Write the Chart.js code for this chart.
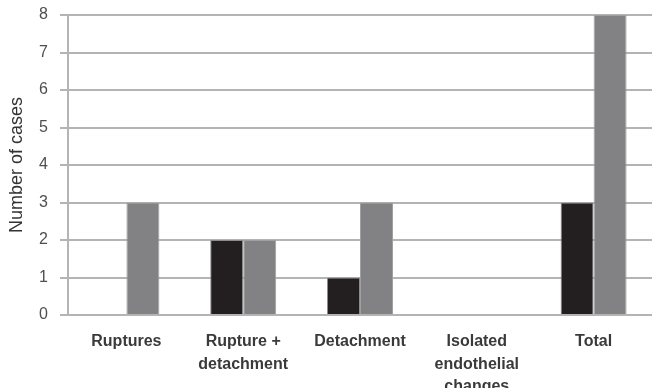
<!DOCTYPE html>
<html>
<head>
<meta charset="utf-8">
<script src="https://cdn.jsdelivr.net/npm/chart.js@4/dist/chart.umd.min.js"></script>
<style>
  html, body { margin: 0; padding: 0; background: #fff; }
  #wrap { width: 654px; height: 388px; position: relative; }
</style>
</head>
<body>
<div id="wrap"><canvas id="c" width="654" height="388"></canvas></div>
<script>
const categories = [
  ["Ruptures"],
  ["Rupture +", "detachment"],
  ["Detachment"],
  ["Isolated", "endothelial", "changes"],
  ["Total"]
];
const darkSeries = [0, 2, 1, 0, 3];
const greySeries = [3, 2, 3, 0, 8];
const yTicks = [0, 1, 2, 3, 4, 5, 6, 7, 8];

new Chart(document.getElementById('c'), {
  type: 'bar',
  data: {
    labels: categories,
    datasets: [
      {
        data: darkSeries,
        backgroundColor: '#231f20',
        borderColor: '#8c8c8c',
        borderWidth: 1,
        categoryPercentage: 0.565,
        barPercentage: 1.0
      },
      {
        data: greySeries,
        backgroundColor: '#828284',
        borderColor: '#a0a0a0',
        borderWidth: 1,
        categoryPercentage: 0.565,
        barPercentage: 1.0
      }
    ]
  },
  options: {
    responsive: false,
    animation: false,
    layout: { padding: { top: 15, right: 2, left: 0, bottom: 0 } },
    plugins: { legend: { display: false }, tooltip: { enabled: false } },
    scales: {
      x: {
        grid: { display: false },
        border: { display: false },
        ticks: {
          color: '#3a3a3a',
          font: { family: 'Liberation Sans, Arial', size: 16, weight: 'bold', lineHeight: 1.38 },
          padding: 8,
          maxRotation: 0,
          autoSkip: false
        },
        afterFit: (s) => { s.height = 73; s.paddingLeft = 0; s.paddingRight = 0; }
      },
      y: {
        min: 0,
        max: 8,
        afterBuildTicks: (s) => { s.ticks = yTicks.map(v => ({ value: v })); },
        grid: { color: '#b4b4b4', lineWidth: 2, tickLength: 8 },
        border: { display: true, color: '#b4b4b4', width: 2 },
        ticks: {
          color: '#4f4f4f',
          font: { family: 'Liberation Sans, Arial', size: 16 },
          padding: 12
        },
        title: {
          display: true,
          text: 'Number of cases',
          color: '#333',
          font: { family: 'Liberation Sans, Arial', size: 18 },
          padding: { top: 6, bottom: 0 }
        },
        afterFit: (s) => { s.width = 68; s.paddingTop = 0; s.paddingBottom = 0; }
      }
    }
  }
});
</script>
</body>
</html>
